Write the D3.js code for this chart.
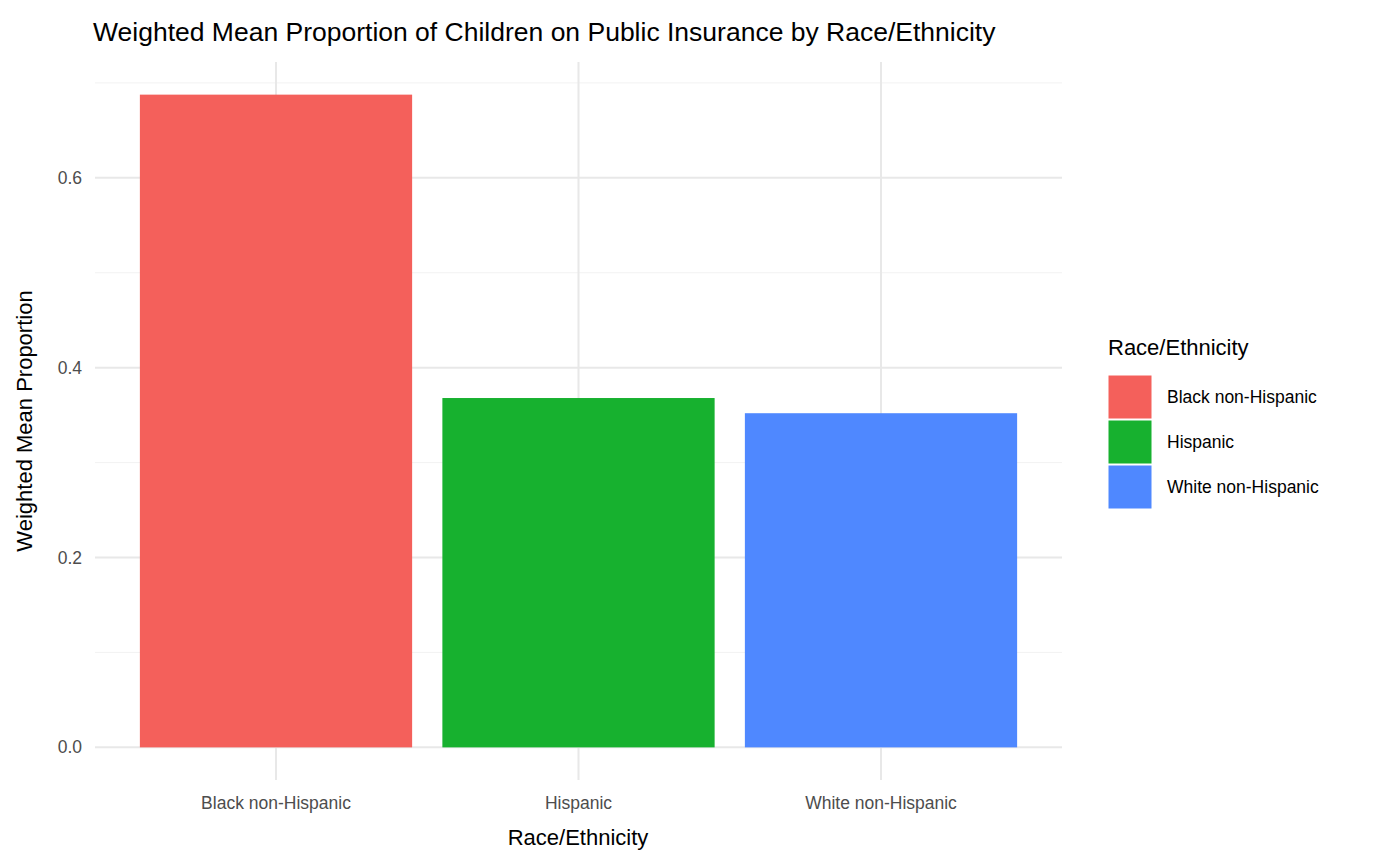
<!DOCTYPE html>
<html><head><meta charset="utf-8">
<script src="https://cdn.jsdelivr.net/npm/d3@7"></script>
<style>body{margin:0;background:#fff}text{font-family:"Liberation Sans",Arial,sans-serif}</style>
</head><body><svg id="c" width="1400" height="865"></svg>
<script>
var categories = ["Black non-Hispanic", "Hispanic", "White non-Hispanic"];
var values = [0.6876, 0.368, 0.352];
var colors = ["#F4605B", "#17B12F", "#4F88FF"];
var yTicks = [0, 0.2, 0.4, 0.6];
var yMinor = [0.1, 0.3, 0.5, 0.7];

var svg = d3.select("#c");
var left = 95, right = 1062;
var maxV = d3.max(values), pad = maxV * 0.05;
var y = d3.scaleLinear().domain([-pad, maxV + pad]).range([780, 62]);
var x = d3.scaleBand().domain(categories).range([124.75, 1032.25]).paddingInner(0.1).paddingOuter(0.05);

var g = svg.append("g");
g.selectAll(".mn").data(yMinor).enter().append("line")
  .attr("x1", left).attr("x2", right).attr("y1", d => y(d)).attr("y2", d => y(d))
  .attr("stroke", "#f2f2f2").attr("stroke-width", 1);
g.selectAll(".mj").data(yTicks).enter().append("line")
  .attr("x1", left).attr("x2", right).attr("y1", d => y(d)).attr("y2", d => y(d))
  .attr("stroke", "#e8e8e8").attr("stroke-width", 2);
g.selectAll(".vx").data(categories).enter().append("line")
  .attr("x1", d => x(d) + x.bandwidth() / 2).attr("x2", d => x(d) + x.bandwidth() / 2)
  .attr("y1", 62).attr("y2", 780).attr("stroke", "#e8e8e8").attr("stroke-width", 2);

g.selectAll("rect").data(values).enter().append("rect")
  .attr("x", (d, i) => x(categories[i])).attr("width", x.bandwidth())
  .attr("y", d => y(d)).attr("height", d => y(0) - y(d))
  .attr("fill", (d, i) => colors[i]);

g.selectAll(".yt").data(yTicks).enter().append("text")
  .attr("x", 82).attr("y", d => y(d)).attr("dy", "0.35em").attr("text-anchor", "end")
  .attr("font-size", 17.5).attr("fill", "#4d4d4d").text(d3.format(".1f"));
g.selectAll(".xt").data(categories).enter().append("text")
  .attr("x", d => x(d) + x.bandwidth() / 2).attr("y", 809).attr("text-anchor", "middle")
  .attr("font-size", 17.5).attr("fill", "#4d4d4d").text(d => d);

svg.append("text").attr("x", 578).attr("y", 845).attr("text-anchor", "middle")
  .attr("font-size", 22).text("Race/Ethnicity");
svg.append("text").attr("transform", "translate(32,421) rotate(-90)").attr("text-anchor", "middle")
  .attr("font-size", 22).text("Weighted Mean Proportion");
svg.append("text").attr("x", 93).attr("y", 41).attr("font-size", 26.5)
  .text("Weighted Mean Proportion of Children on Public Insurance by Race/Ethnicity");

var lg = svg.append("g");
lg.append("text").attr("x", 1108).attr("y", 355).attr("font-size", 22).text("Race/Ethnicity");
categories.forEach(function (c, i) {
  lg.append("rect").attr("x", 1108).attr("y", 375 + i * 45).attr("width", 44).attr("height", 44)
    .attr("fill", colors[i]).attr("stroke", "#fff").attr("stroke-width", 1);
  lg.append("text").attr("x", 1167).attr("y", 397 + i * 45).attr("dy", "0.35em")
    .attr("font-size", 17.5).text(c);
});
</script></body></html>
